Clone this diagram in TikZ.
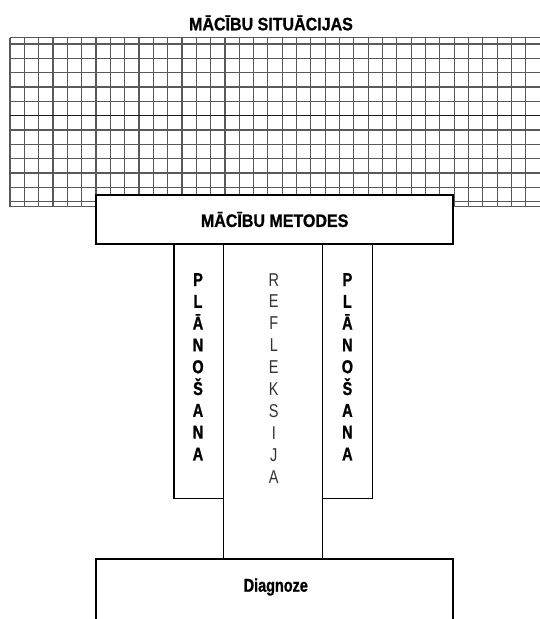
\documentclass[tikz,border=0pt]{standalone}
\usepackage{fontspec}
\setmainfont{Liberation Sans}
\newfontfamily\capfont[FakeStretch=0.89, BoldFeatures={FakeBold=1}]{Liberation Sans}
\newfontfamily\narrowfont[FakeStretch=0.78, BoldFeatures={FakeBold=1}]{Liberation Sans}
\newfontfamily\diagfont[FakeStretch=0.78, BoldFeatures={FakeBold=1}]{Liberation Sans}
\begin{document}
\begin{tikzpicture}[x=1pt,y=-1pt,
  gridline/.style={black!65, line width=1.1pt},
  boxline/.style={draw=black, line width=1.8pt, fill=white, inner sep=0pt},
  colbox/.style={draw=black, line width=1.5pt, inner sep=0pt},
  captext/.style={font=\capfont\bfseries\fontsize{18}{20}\selectfont, inner sep=0pt},
  vbold/.style={font=\narrowfont\bfseries\fontsize{18.6}{20}\selectfont, inner sep=0pt, anchor=base},
  vlight/.style={font=\narrowfont\fontsize{18.6}{20}\selectfont, text=black!80, inner sep=0pt, anchor=base},
  diagtext/.style={font=\diagfont\bfseries\fontsize{18.5}{20}\selectfont, inner sep=0pt, anchor=base}]
\useasboundingbox (0,0) rectangle (540,619);
\fill[white] (0,0) rectangle (540,619);
% grid of learning situations
\foreach \k in {0,...,37} \draw[gridline] ({10+14.33*\k},37.7) -- ({10+14.33*\k},206.7);
\foreach \k in {0,...,11} \draw[gridline] (10,{44+14.33*\k}) -- (540,{44+14.33*\k});
\draw[gridline] (10,37.7) -- (540,37.7);
\draw[gridline] (10,206.7) -- (540,206.7);
\draw[black!90, line width=1.1pt] (10,{44+14.33*5}) -- (540,{44+14.33*5});
% title
\node[captext, anchor=base] (title) at (271,30.3) {MĀCĪBU SITUĀCIJAS};
% columns
\node[colbox, minimum width=49.3pt, minimum height=254.7pt] (planL) at (198.65,371.35) {};
\node[colbox, minimum width=99pt, minimum height=315.3pt] (refl) at (272.8,401.65) {};
\node[colbox, minimum width=50.2pt, minimum height=254.7pt] (planR) at (347.4,371.35) {};
% methods box
\node[boxline, captext, minimum width=357.3pt, minimum height=49pt] (metodes) at (274.65,219.5) {MĀCĪBU METODES};
% vertical words
\foreach \c [count=\i from 0] in {P,L,Ā,N,O,Š,A,N,A}
  \node[vbold] (pl\i) at (198.0,{286+21.8*\i}) {\c};
\foreach \c [count=\i from 0] in {P,L,Ā,N,O,Š,A,N,A}
  \node[vbold] (pr\i) at (347.4,{286+21.8*\i}) {\c};
\foreach \c [count=\i from 0] in {R,E,F,L,E,K,S,I,J,A}
  \node[vlight] (rf\i) at (273.8,{286+21.93*\i}) {\c};
% diagnosis box (open at the bottom)
\draw[black, line width=1.8pt] (96,619) -- (96,559.3) -- (453.3,559.3) -- (453.3,619);
\node[diagtext] (diag) at (275.8,591.7) {Diagnoze};
\end{tikzpicture}
\end{document}
